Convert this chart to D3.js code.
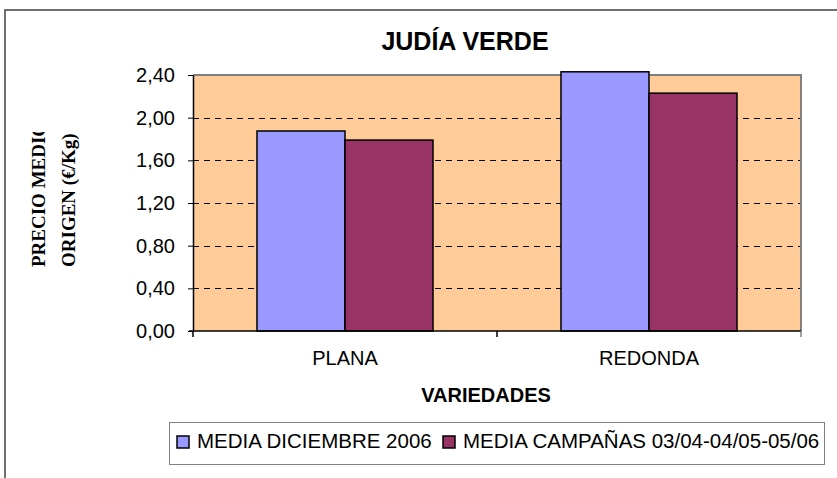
<!DOCTYPE html>
<html>
<head>
    <meta charset="utf-8">
    <title>Judía verde</title>
    <style>
        body {
            margin: 0;
            background: #fff;
        }

        svg text {
            font-family: "Liberation Sans", Arial, sans-serif;
            fill: #000;
        }

        .grid-line {
            stroke: #000;
            stroke-dasharray: 6, 5;
            shape-rendering: crispEdges;
        }

        .bar {
            stroke: #000;
            stroke-width: 1.5;
        }

        .axis-title-y text {
            font-family: "Liberation Serif", "Times New Roman", serif;
            font-weight: bold;
            font-size: 19px;
        }
    </style>
    <script src="https://d3js.org/d3.v7.min.js"></script>
</head>

<body>

<script type="text/javascript">
    var categories = ["PLANA", "REDONDA"];
    var seriesNames = ["MEDIA DICIEMBRE 2006", "MEDIA CAMPAÑAS 03/04-04/05-05/06"];
    var mediaDiciembre = [1.875, 2.43];
    var mediaCampanas = [1.79, 2.23];
    var yTicks = [0, 0.4, 0.8, 1.2, 1.6, 2.0, 2.4];

    var colors = ["#9999ff", "#993366"];
    var width = 837, height = 478;
    var plot = {left: 193, right: 801, top: 75, bottom: 331};

    var data = categories.map(function (c, i) {
        return {category: c, values: [mediaDiciembre[i], mediaCampanas[i]]};
    });

    var svg = d3.select("body").append("svg")
            .attr("width", width)
            .attr("height", height);

    // outer chart frame (runs off the picture at right and bottom)
    svg.append("rect")
            .attr("x", 5)
            .attr("y", 10)
            .attr("width", 900)
            .attr("height", 520)
            .attr("fill", "none")
            .attr("stroke", "#404040")
            .attr("stroke-width", 1.5);

    var x = d3.scaleBand()
            .domain(categories)
            .range([plot.left, plot.right])
            .paddingInner(0.421)
            .paddingOuter(0.2105);

    var xSub = d3.scaleBand()
            .domain(d3.range(seriesNames.length))
            .range([0, x.bandwidth()]);

    var y = d3.scaleLinear()
            .domain([0, 2.4])
            .range([plot.bottom, plot.top]);

    var fmt = function (v) {
        return d3.format(".2f")(v).replace(".", ",");
    };

    // plot background
    svg.append("rect")
            .attr("x", plot.left)
            .attr("y", plot.top)
            .attr("width", plot.right - plot.left)
            .attr("height", plot.bottom - plot.top)
            .attr("fill", "#ffcc99");

    // grid
    svg.append("g")
            .selectAll("line")
            .data(yTicks.filter(function (t) { return t > 0 && t < 2.4; }))
            .enter().append("line")
            .attr("class", "grid-line")
            .attr("x1", plot.left)
            .attr("x2", plot.right)
            .attr("y1", function (d) { return Math.round(y(d)) + 0.5; })
            .attr("y2", function (d) { return Math.round(y(d)) + 0.5; });

    // plot border top / right
    svg.append("path")
            .attr("d", "M" + plot.left + "," + plot.top + "H" + plot.right + "V" + plot.bottom)
            .attr("fill", "none")
            .attr("stroke", "#808080")
            .attr("stroke-width", 2);

    // bars
    var groups = svg.append("g")
            .selectAll("g")
            .data(data)
            .enter().append("g")
            .attr("transform", function (d) { return "translate(" + x(d.category) + ",0)"; });

    groups.selectAll("rect")
            .data(function (d) { return d.values; })
            .enter().append("rect")
            .attr("class", "bar")
            .attr("x", function (d, i) { return xSub(i); })
            .attr("y", function (d) { return y(d); })
            .attr("width", xSub.bandwidth())
            .attr("height", function (d) { return y(0) - y(d); })
            .attr("fill", function (d, i) { return colors[i]; });

    // y axis
    var yAxis = d3.axisLeft(y)
            .tickValues(yTicks)
            .tickFormat(fmt)
            .tickSizeInner(5)
            .tickSizeOuter(0)
            .tickPadding(13);

    var yG = svg.append("g")
            .attr("transform", "translate(" + plot.left + ",0)")
            .call(yAxis);
    yG.select(".domain").attr("stroke", "#000").attr("stroke-width", 1.5);
    yG.selectAll("text")
            .attr("font-size", 20)
            .attr("font-family", "Liberation Sans, Arial, sans-serif");

    // x axis
    var xAxis = d3.axisBottom(x)
            .tickSize(0)
            .tickPadding(20);

    var xG = svg.append("g")
            .attr("transform", "translate(0," + plot.bottom + ")")
            .call(xAxis);
    xG.select(".domain").attr("stroke", "#000").attr("stroke-width", 1.5)
            .attr("d", "M" + (plot.left - 4) + ",0H" + plot.right);
    xG.selectAll("text")
            .attr("font-size", 20)
            .attr("font-family", "Liberation Sans, Arial, sans-serif");

    // category separators
    var sep = [plot.left, (x(categories[0]) + x.bandwidth() + x(categories[1])) / 2, plot.right];
    svg.append("g")
            .selectAll("line")
            .data(sep)
            .enter().append("line")
            .attr("x1", function (d) { return d; })
            .attr("x2", function (d) { return d; })
            .attr("y1", plot.bottom)
            .attr("y2", plot.bottom + 6)
            .attr("stroke", function (d, i) { return i === 2 ? "#808080" : "#000"; })
            .attr("stroke-width", 1.5);

    // title
    svg.append("text")
            .attr("x", 465)
            .attr("y", 50)
            .attr("text-anchor", "middle")
            .attr("font-size", 25)
            .attr("font-weight", "bold")
            .text("JUDÍA VERDE");

    // x axis title
    svg.append("text")
            .attr("x", 486)
            .attr("y", 402)
            .attr("text-anchor", "middle")
            .attr("font-size", 20)
            .attr("font-weight", "bold")
            .text("VARIEDADES");

    // y axis title, clipped at the top like the original
    svg.append("defs").append("clipPath")
            .attr("id", "ytitle-clip")
            .append("rect")
            .attr("x", 0)
            .attr("y", 132)
            .attr("width", 120)
            .attr("height", 200);

    var yTitle = svg.append("g")
            .attr("class", "axis-title-y")
            .attr("clip-path", "url(#ytitle-clip)");

    [["PRECIO MEDIO", 38.5], ["ORIGEN (€/Kg)", 68.5]].forEach(function (l) {
        yTitle.append("text")
                .attr("transform", "translate(" + l[1] + ",267) rotate(-90)")
                .attr("text-anchor", "start")
                .attr("dy", "0.35em")
                .text(l[0]);
    });

    // legend
    var legend = svg.append("g");
    legend.append("rect")
            .attr("x", 169.5)
            .attr("y", 422.5)
            .attr("width", 655)
            .attr("height", 42)
            .attr("fill", "#fff")
            .attr("stroke", "#808080")
            .attr("stroke-width", 1);

    var legendX = [177, 443];
    var items = legend.selectAll("g.item")
            .data(seriesNames)
            .enter().append("g")
            .attr("class", "item")
            .attr("transform", function (d, i) { return "translate(" + legendX[i] + ",436)"; });

    items.append("rect")
            .attr("width", 12)
            .attr("height", 12)
            .attr("fill", function (d, i) { return colors[i]; })
            .attr("stroke", "#000")
            .attr("stroke-width", 1.5);

    items.append("text")
            .attr("x", 20)
            .attr("y", 12)
            .attr("font-size", 20.5)
            .text(function (d) { return d; });
</script>

</body>
</html>
